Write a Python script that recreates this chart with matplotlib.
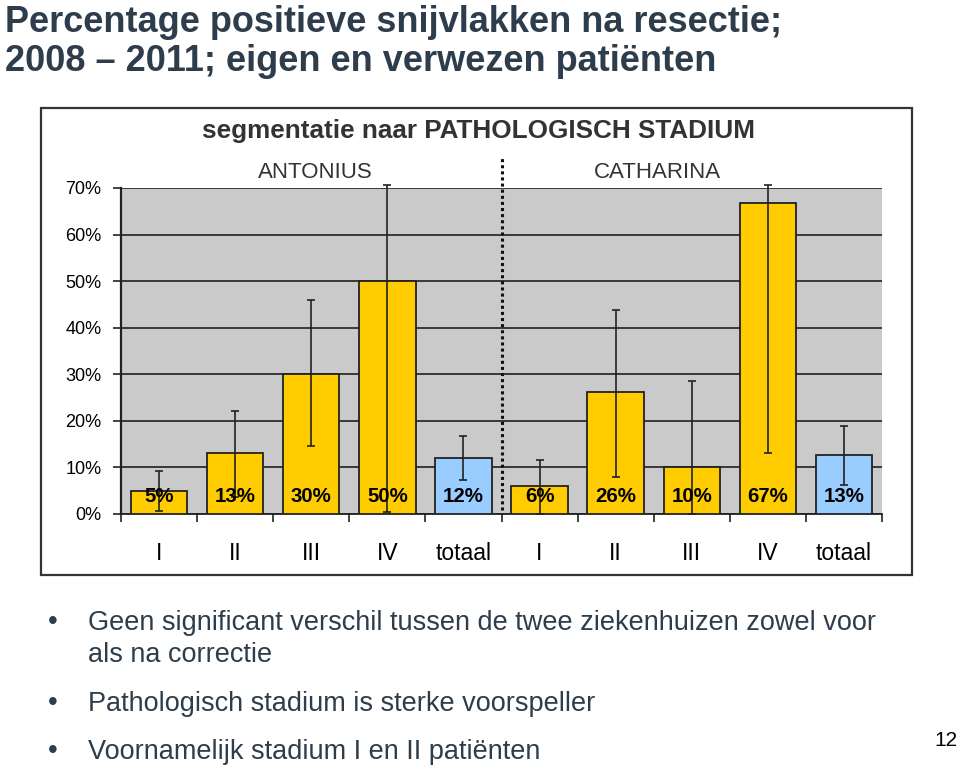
import numpy as np
import matplotlib
matplotlib.use("Agg")
import matplotlib.pyplot as plt

plt.rcParams["font.family"] = ["Liberation Sans", "DejaVu Sans"]

# gegevens
categories = ["I", "II", "III", "IV", "totaal", "I", "II", "III", "IV", "totaal"]
values = [4.9, 13.1, 30.0, 50.0, 12.0, 6.0, 26.2, 10.0, 66.7, 12.7]
err_low = [0.6, 3.6, 14.5, 0.5, 7.3, 0.0, 8.0, 0.0, 13.2, 6.2]
err_high = [9.2, 22.2, 46.0, 70.6, 16.8, 11.5, 43.8, 28.5, 70.6, 19.0]
is_total = [False, False, False, False, True, False, False, False, False, True]
yticks = [0, 10, 20, 30, 40, 50, 60, 70]

title = "Percentage positieve snijvlakken na resectie;\n2008 \u2013 2011; eigen en verwezen pati\u00ebnten"
chart_title = "segmentatie naar PATHOLOGISCH STADIUM"
groups = ["ANTONIUS", "CATHARINA"]
bullets = [
    "Geen significant verschil tussen de twee ziekenhuizen zowel voor\nals na correctie",
    "Pathologisch stadium is sterke voorspeller",
    "Voornamelijk stadium I en II pati\u00ebnten",
]
page = "12"

TXT = "#2E3D4C"
YELLOW = "#FFCC00"
BLUE = "#99CCFF"

fig = plt.figure(figsize=(9.6, 7.72), dpi=100)

# kader om de grafiek
frame = plt.Rectangle((41 / 960, 1 - 575 / 772), (912 - 41) / 960, (575 - 108) / 772,
                      transform=fig.transFigure, fill=False, edgecolor="#333333",
                      lw=1.6, zorder=0)
fig.patches.append(frame)

ax = fig.add_axes([121 / 960, 1 - 514 / 772, (882 - 121) / 960, (514 - 188) / 772])
ax.set_facecolor("#CACACA")

x = np.arange(len(categories))
colors = [BLUE if t else YELLOW for t in is_total]
ax.bar(x, values, width=0.74, color=colors, edgecolor="#222222", lw=1.3, zorder=3)

vals = np.array(values)
yerr = np.array([vals - np.array(err_low), np.array(err_high) - vals])
ax.errorbar(x, vals, yerr=yerr, fmt="none", ecolor="#222222", elinewidth=1.2,
            capsize=2.6, capthick=1.2, zorder=4, clip_on=False)

for xi, v in zip(x, values):
    ax.text(xi, 3.8, f"{round(v):d}%", ha="center", va="center",
            fontsize=14.7, fontweight="bold", color="black", zorder=5)

# scheidingslijn tussen de ziekenhuizen
ax.plot([4.5, 4.5], [0.9, 76.6], color="#111111", lw=2.2, linestyle=(0, (1, 1)),
        clip_on=False, zorder=6)

ax.set_xlim(-0.5, len(categories) - 0.5)
ax.set_ylim(0, 70)
ax.set_yticks(yticks)
ax.set_yticklabels([f"{t}%" for t in yticks], fontsize=13)
ax.yaxis.grid(True, color="#111111", lw=1.1, zorder=1)
ax.set_axisbelow(True)

ax.set_xticks(np.arange(-0.5, len(categories), 1.0))
ax.set_xticklabels([])
ax.set_xticks(x, minor=True)
ax.set_xticklabels(categories, minor=True, fontsize=16.5)
ax.tick_params(axis="x", which="major", direction="out", length=6, width=1.2,
               color="#222222")
ax.tick_params(axis="x", which="minor", length=0, pad=20)
ax.tick_params(axis="y", direction="out", length=6, width=1.2, color="#222222",
               pad=8)

for s in ["top", "right"]:
    ax.spines[s].set_visible(False)
ax.spines["left"].set_color("#222222")
ax.spines["left"].set_linewidth(1.6)
ax.spines["bottom"].set_color("#222222")
ax.spines["bottom"].set_linewidth(1.3)

fig.text(478 / 960, 1 - 131 / 772, chart_title, ha="center", va="center",
         fontsize=18.8, fontweight="bold", color="#333333")
fig.text(315 / 960, 1 - 172 / 772, groups[0], ha="center", va="center",
         fontsize=16, color="#333333")
fig.text(657 / 960, 1 - 172 / 772, groups[1], ha="center", va="center",
         fontsize=16, color="#333333")

# dia titel
fig.text(5 / 960, 1 - 5 / 772, title, ha="left", va="top", fontsize=26,
         fontweight="bold", color=TXT, linespacing=1.14)

# opsommingstekens
bullet_y = [622, 703, 751]
for by, b in zip(bullet_y, bullets):
    fig.text(48 / 960, 1 - by / 772, "\u2022", ha="left", va="center",
             fontsize=20, color=TXT)
    fig.text(88 / 960, 1 - (by - 12) / 772, b, ha="left", va="top",
             fontsize=19.5, color=TXT, linespacing=1.3)

fig.text(946 / 960, 1 - 740 / 772, page, ha="center", va="center",
         fontsize=15, color="black")

fig.savefig("out.png", dpi=100)
